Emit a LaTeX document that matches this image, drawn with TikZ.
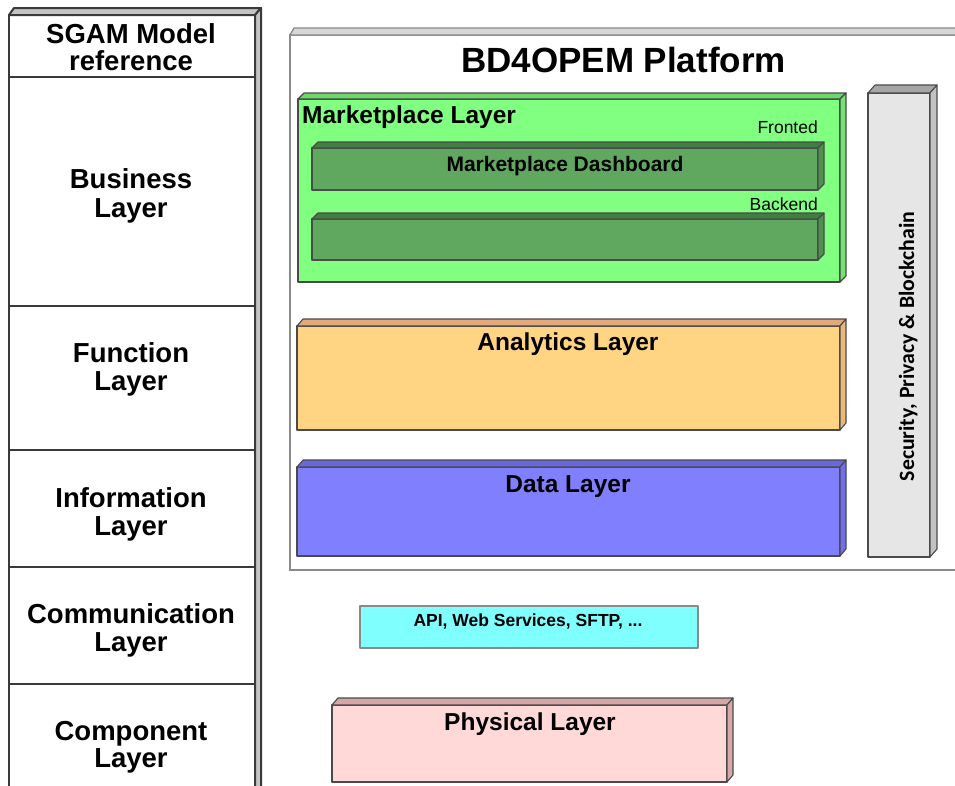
\documentclass[tikz,border=0pt]{standalone}
\usepackage{fontspec}
\setmainfont{Liberation Sans}
\newfontfamily\secfont{Carlito}
\definecolor{colframe}{HTML}{3A3A3A}
\definecolor{colface}{HTML}{C4C4C4}
\definecolor{outline}{HTML}{4A4A4A}
\definecolor{platline}{HTML}{8A8A8A}
\definecolor{platface}{HTML}{D6D6D6}
\definecolor{mktfront}{HTML}{80FF80}
\definecolor{mkttop}{HTML}{6CD86C}
\definecolor{mktside}{HTML}{72E472}
\definecolor{dashfront}{HTML}{60A860}
\definecolor{dashtop}{HTML}{3F7F3F}
\definecolor{dashside}{HTML}{4C924C}
\definecolor{anafront}{HTML}{FFD482}
\definecolor{anatop}{HTML}{E2AA7A}
\definecolor{anaside}{HTML}{E8B87C}
\definecolor{datafront}{HTML}{8080FF}
\definecolor{datatop}{HTML}{6868DC}
\definecolor{dataside}{HTML}{7070EC}
\definecolor{secfront}{HTML}{E6E6E6}
\definecolor{sectop}{HTML}{A6A6A6}
\definecolor{secside}{HTML}{C2C2C2}
\definecolor{apifront}{HTML}{80FFFF}
\definecolor{phyfront}{HTML}{FFD8D8}
\definecolor{phytop}{HTML}{D4A6A6}
\definecolor{physide}{HTML}{D8A8A8}
\tikzset{
  facebox/.style={draw=outline, line width=1.1pt, inner sep=0pt, outer sep=0pt, line join=round},
  faceline/.style={draw=outline, line width=1.1pt, line join=round},
  cellbox/.style={draw=colframe, line width=2pt, inner sep=0pt, outer sep=0pt, minimum width=246pt, anchor=north west},
  sgamtext/.style={font=\fontsize{27.5}{28}\selectfont\bfseries, anchor=base, inner sep=0pt},
  layertext/.style={font=\fontsize{24.5}{26}\selectfont\bfseries, anchor=base, inner sep=0pt},
  smalltext/.style={font=\fontsize{17.5}{19}\selectfont, anchor=base east, inner sep=0pt},
}
% #1 name, #2 x1, #3 y1, #4 x2, #5 y2, #6 front, #7 top, #8 side; depth \ddx,\ddy
\newcommand\ddx{6}
\newcommand\ddy{6}
\newcommand\mycuboid[8]{%
  \node[facebox, fill=#6, minimum width={(#4-#2)*1pt}, minimum height={(#5-#3)*1pt}, anchor=north west] (#1) at (#2,#3) {};
  \filldraw[faceline, fill=#7] (#1.north west) -- ++(\ddx,-\ddy) -- ([shift={(\ddx,-\ddy)}]#1.north east) -- (#1.north east) -- cycle;
  \filldraw[faceline, fill=#8] (#1.north east) -- ++(\ddx,-\ddy) -- ([shift={(\ddx,-\ddy)}]#1.south east) -- (#1.south east) -- cycle;
}
\begin{document}
\begin{tikzpicture}[x=1pt, y=-1pt]
\useasboundingbox[fill=white] (0,0) rectangle (955,785);

% ---------- SGAM column ----------
\node[cellbox, minimum height=62pt] (c0) at (9,15) {};
\node[cellbox, minimum height=229pt] (c1) at (9,77) {};
\node[cellbox, minimum height=144pt] (c2) at (9,306) {};
\node[cellbox, minimum height=117pt] (c3) at (9,450) {};
\node[cellbox, minimum height=117pt] (c4) at (9,567) {};
\node[cellbox, minimum height=111pt] (c5) at (9,684) {};
\filldraw[draw=colframe, line width=2pt, fill=colface, line join=round] (c0.north west) -- ++(5,-7) -- ([shift={(6,-7)}]c0.north east) -- (c0.north east) -- cycle;
\filldraw[draw=colframe, line width=2pt, fill=colface, line join=round] (c0.north east) -- ++(6,-7) -- ([shift={(6,-7)}]c5.south east) -- (c5.south east) -- cycle;

\node[sgamtext] (t0a) at (131,43) {SGAM Model};
\node[sgamtext] (t0b) at (131,70) {reference};
\node[sgamtext] (t1a) at (131,188) {Business};
\node[sgamtext] (t1b) at (131,217) {Layer};
\node[sgamtext] (t2a) at (131,362) {Function};
\node[sgamtext] (t2b) at (131,390) {Layer};
\node[sgamtext] (t3a) at (131,507) {Information};
\node[sgamtext] (t3b) at (131,535) {Layer};
\node[sgamtext] (t4a) at (131,623) {Communication};
\node[sgamtext] (t4b) at (131,651) {Layer};
\node[sgamtext] (t5a) at (131,740) {Component};
\node[sgamtext] (t5b) at (131,767) {Layer};

% ---------- Platform ----------
\node[draw=platline, line width=1.3pt, fill=white, inner sep=0pt, outer sep=0pt, minimum width=680pt, minimum height=535pt, anchor=north west] (plat) at (290,35) {};
\filldraw[draw=platline, line width=1.3pt, fill=platface] (plat.north west) -- ++(4,-7) -- ([shift={(4,-7)}]plat.north east) -- (plat.north east) -- cycle;
\node[font=\fontsize{35}{38}\selectfont\bfseries, anchor=base, inner sep=0pt] (title) at (623.5,72) {BD4OPEM Platform};

\renewcommand\ddx{6}\renewcommand\ddy{6}
\mycuboid{mkt}{298}{99}{840}{282}{mktfront}{mkttop}{mktside}
\node[layertext, anchor=base west] (mktlabel) at (302,123.5) {Marketplace Layer};
\mycuboid{dash}{312}{148}{818}{190}{dashfront}{dashtop}{dashside}
\node[font=\fontsize{21}{23}\selectfont\bfseries, anchor=base, inner sep=0pt] (dashlabel) at (565,171.5) {Marketplace Dashboard};
\node[smalltext] (fronted) at (818,133) {Fronted};
\mycuboid{back}{312}{219}{818}{260}{dashfront}{dashtop}{dashside}
\node[smalltext] (backend) at (818,210) {Backend};

\renewcommand\ddx{6}\renewcommand\ddy{7}
\mycuboid{ana}{297}{326}{840}{430}{anafront}{anatop}{anaside}
\node[layertext] (analabel) at (568,350) {Analytics Layer};
\mycuboid{data}{297}{467}{840}{556}{datafront}{datatop}{dataside}
\node[layertext] (datalabel) at (568,492) {Data Layer};

\renewcommand\ddx{7}\renewcommand\ddy{8}
\mycuboid{sec}{868}{93}{930}{557}{secfront}{sectop}{secside}
\node[font=\secfont\fontsize{21.8}{23}\selectfont\bfseries, rotate=90, anchor=base, inner sep=0pt] (seclabel) at (914,346.5) {Security, Privacy \& Blockchain};

% ---------- Communication ----------
\node[facebox, draw=platline, fill=apifront, minimum width=338pt, minimum height=42pt, anchor=north west] (api) at (360,606) {};
\node[font=\fontsize{17.5}{19}\selectfont\bfseries, anchor=base, inner sep=0pt] (apilabel) at (528,626) {API, Web Services, SFTP, ...};

% ---------- Physical ----------
\renewcommand\ddx{6}\renewcommand\ddy{7}
\mycuboid{phy}{332}{705}{727}{782}{phyfront}{phytop}{physide}
\node[layertext] (phylabel) at (530,730) {Physical Layer};
\end{tikzpicture}
\end{document}
